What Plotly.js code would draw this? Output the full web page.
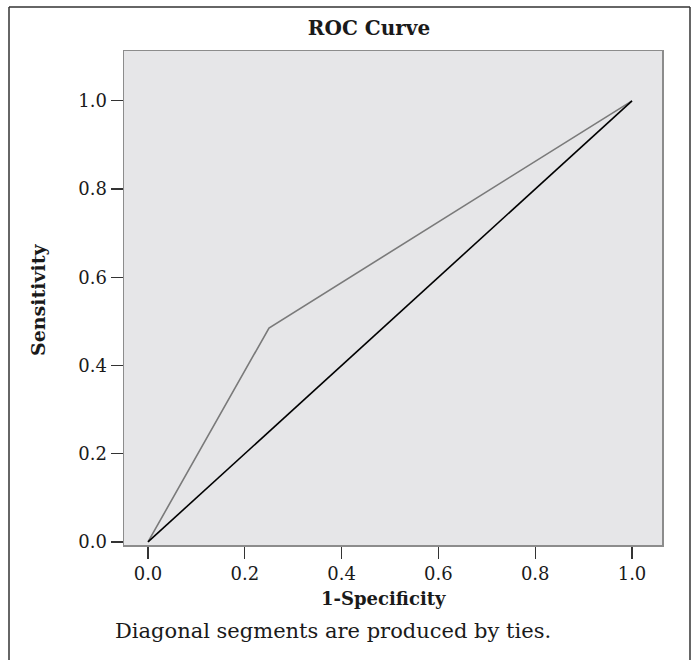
<!DOCTYPE html>
<html>
<head>
<meta charset="utf-8">
<script src="https://cdn.plot.ly/plotly-3.0.1.min.js"></script>
<style>
html,body{margin:0;padding:0;background:#fff;}
#chart{width:696px;height:660px;}
</style>
</head>
<body>
<div id="chart"></div>
<script>
// ROC curve data
const rocFPR = [0.0, 0.25, 1.0];
const rocTPR = [0.0, 0.485, 1.0];
// reference diagonal
const refX = [0.0, 1.0];
const refY = [0.0, 1.0];
const tickVals = [0.0, 0.2, 0.4, 0.6, 0.8, 1.0];
const tickText = ["0.0", "0.2", "0.4", "0.6", "0.8", "1.0"];

const serif = '"DejaVu Serif", "Liberation Serif", serif';

const L = 124, R = 662, T = 51, B = 545, W = 696, H = 660;
const pw = R - L, ph = B - T;
const px = v => (v - L) / pw;
const py = v => (B - v) / ph;

const traces = [
  {x: rocFPR, y: rocTPR, type: 'scatter', mode: 'lines',
   line: {color: '#7a7a7a', width: 1.6}, hoverinfo: 'skip', showlegend: false},
  {x: refX, y: refY, type: 'scatter', mode: 'lines',
   line: {color: '#000000', width: 1.6}, hoverinfo: 'skip', showlegend: false}
];

const layout = {
  width: W, height: H,
  margin: {l: L, r: W - R, t: T, b: H - B, pad: 0},
  paper_bgcolor: '#ffffff',
  plot_bgcolor: '#e6e6e8',
  showlegend: false,
  font: {family: serif, color: '#1a1a1a', size: 18},
  xaxis: {
    range: [-0.0496, 1.062], tickvals: tickVals, ticktext: tickText,
    showgrid: false, zeroline: false,
    showline: true, linecolor: '#8c8c8c', linewidth: 1.5, mirror: true,
    ticks: 'outside', ticklen: 12, tickcolor: '#333', tickwidth: 1.2,
    tickfont: {family: serif, size: 18, color: '#1a1a1a'}
  },
  yaxis: {
    range: [-0.007, 1.113], tickvals: tickVals, ticktext: tickText,
    showgrid: false, zeroline: false,
    showline: true, linecolor: '#8c8c8c', linewidth: 1.5, mirror: true,
    ticks: 'outside', ticklen: 12, tickcolor: '#333', tickwidth: 1.2,
    tickfont: {family: serif, size: 18, color: '#1a1a1a'}
  },
  title: {text: '<b>ROC Curve</b>', font: {family: serif, size: 20, color: '#1a1a1a'},
          x: 369 / W, xanchor: 'center', xref: 'container', y: 1 - 28 / H, yanchor: 'middle', yref: 'container'},
  shapes: [
    {type: 'line', xref: 'paper', yref: 'paper', x0: px(9), x1: px(690), y0: py(7), y1: py(7), line: {color: '#333', width: 1.5}},
    {type: 'line', xref: 'paper', yref: 'paper', x0: px(9), x1: px(9), y0: py(7), y1: py(662), line: {color: '#333', width: 1.5}},
    {type: 'line', xref: 'paper', yref: 'paper', x0: px(690), x1: px(690), y0: py(7), y1: py(662), line: {color: '#333', width: 1.5}}
  ],
  annotations: [
    {text: '<b>1-Specificity</b>', xref: 'paper', yref: 'paper',
     x: px(383), y: py(598), xanchor: 'center', yanchor: 'middle', showarrow: false,
     font: {family: serif, size: 18, color: '#1a1a1a'}},
    {text: '<b>Sensitivity</b>', xref: 'paper', yref: 'paper', textangle: -90,
     x: px(38), y: py(300), xanchor: 'center', yanchor: 'middle', showarrow: false,
     font: {family: serif, size: 19, color: '#1a1a1a'}},
    {text: 'Diagonal segments are produced by ties.', xref: 'paper', yref: 'paper',
     x: px(333), y: py(631), xanchor: 'center', yanchor: 'middle', showarrow: false,
     font: {family: serif, size: 21, color: '#1a1a1a'}}
  ]
};

Plotly.newPlot('chart', traces, layout, {displayModeBar: false, staticPlot: true});
</script>
</body>
</html>
